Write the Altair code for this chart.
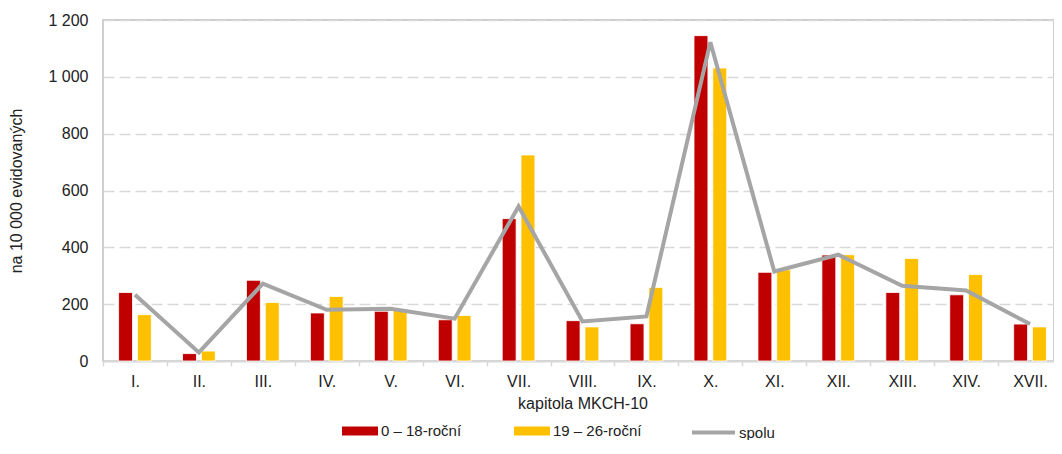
import altair as alt
import pandas as pd

categories = ["I.", "II.", "III.", "IV.", "V.", "VI.", "VII.", "VIII.", "IX.",
              "X.", "XI.", "XII.", "XIII.", "XIV.", "XVII."]
v_0_18 = [241, 26, 284, 169, 175, 145, 501, 142, 131, 1145, 312, 373, 241, 233, 130]
v_19_26 = [163, 35, 206, 227, 180, 160, 725, 120, 259, 1031, 321, 374, 361, 304, 120]
v_spolu = [233, 30, 272, 180, 184, 149, 544, 139, 157, 1122, 315, 374, 265, 248, 130]
series_names = ["0 – 18-roční", "19 – 26-roční", "spolu"]
y_ticks = [0, 200, 400, 600, 800, 1000, 1200]

RED = "#C00000"
YELLOW = "#FFC000"
GRAY = "#A5A5A5"
FONT = "Liberation Sans"
TXT = "#222222"

bars_df = pd.DataFrame({
    "kapitola": categories * 2,
    "skupina": [series_names[0]] * len(categories) + [series_names[1]] * len(categories),
    "hodnota": v_0_18 + v_19_26,
})
line_df = pd.DataFrame({
    "kapitola": categories,
    "skupina": [series_names[2]] * len(categories),
    "hodnota": v_spolu,
})

x_enc = alt.X(
    "kapitola:N", sort=categories, title="kapitola MKCH-10",
    scale=alt.Scale(paddingInner=0, paddingOuter=0, range=[0, 959]),
    axis=alt.Axis(labelAngle=0, tickBand="extent", tickSize=5, tickColor="#D9D9D9",
                  tickWidth=1.5, domainColor="#D9D9D9", domainWidth=2,
                  labelPadding=7, titlePadding=6, labelFontSize=16, titleFontSize=16,
                  labelColor=TXT, titleColor=TXT, titleFontWeight="normal"),
)
y_enc = alt.Y(
    "hodnota:Q", title="na 10 000 evidovaných",
    scale=alt.Scale(domain=[0, 1200], nice=False),
    axis=alt.Axis(values=y_ticks, grid=True, gridDash=[11, 5], gridColor="#D9D9D9",
                  gridWidth=1.5, ticks=False, domain=False, labelPadding=15,
                  labelExpr="replace(format(datum.value, ','), ',', ' ')",
                  labelFontSize=16, titleFontSize=16, titlePadding=23,
                  labelColor=TXT, titleColor=TXT, titleFontWeight="normal"),
)

bars = alt.Chart(bars_df).mark_bar(stroke="white", strokeWidth=0.8).encode(
    x=x_enc,
    xOffset=alt.XOffset("skupina:N", sort=series_names[:2],
                        scale=alt.Scale(paddingInner=0.26, paddingOuter=0.83)),
    y=y_enc,
    fill=alt.Fill("skupina:N", sort=series_names[:2],
                  scale=alt.Scale(domain=series_names[:2], range=[RED, YELLOW]),
                  legend=alt.Legend(title=None, orient="none", legendX=239, legendY=393,
                                    direction="horizontal",
                                    symbolType="M-1,-0.25H1V0.25H-1Z", symbolSize=1296,
                                    symbolStrokeWidth=0, labelFontSize=15, labelOffset=3,
                                    columnPadding=52, labelColor=TXT)),
)

line = alt.Chart(line_df).mark_line(strokeWidth=4).encode(
    x=x_enc,
    y=y_enc,
    stroke=alt.Stroke("skupina:N",
                      scale=alt.Scale(domain=[series_names[2]], range=[GRAY]),
                      legend=alt.Legend(title=None, orient="none", legendX=587, legendY=389,
                                        symbolType="stroke", symbolSize=1849,
                                        symbolStrokeWidth=4, labelFontSize=15,
                                        labelOffset=2, labelColor=TXT)),
)

chart = alt.layer(bars, line).properties(
    width=951, height=341,
    autosize=alt.AutoSizeParams(type="none"),
    padding={"left": 95, "top": 12, "right": 0, "bottom": 79},
).configure(font=FONT).configure_view(stroke="#BFBFBF", strokeWidth=1.5)

chart.save("out.html", embed_options={"renderer": "svg", "actions": False})
